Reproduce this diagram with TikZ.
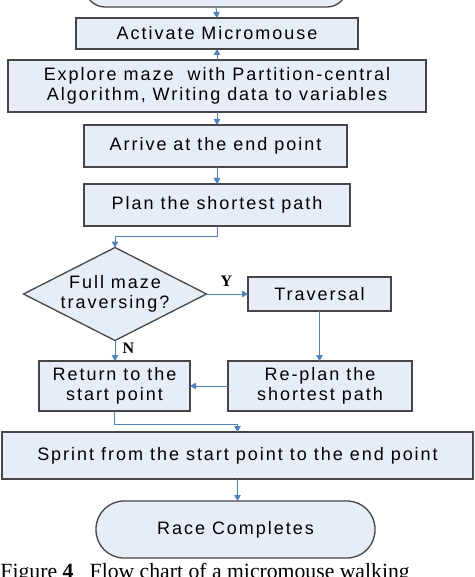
\documentclass[tikz,border=0pt]{standalone}
\usepackage{fontspec}
\usetikzlibrary{arrows.meta,shapes.geometric}
\newfontfamily\boxfont{Liberation Sans}[LetterSpace=11]
\newfontfamily\capfont{Liberation Serif}
\definecolor{boxfill}{RGB}{230,237,248}
\definecolor{boxline}{RGB}{70,70,70}
\definecolor{conn}{RGB}{79,129,189}
\begin{document}
\begin{tikzpicture}[x=1pt,y=-1pt,
  every node/.style={inner sep=0pt,outer sep=0pt},
  box/.style={draw=boxline,line width=1.3pt,fill=boxfill,rectangle,
    font=\boxfont\fontsize{18}{20}\selectfont,align=center},
  term/.style={box,rounded corners=28pt},
  dec/.style={draw=boxline,line width=1.3pt,fill=boxfill,diamond,
    minimum width=183pt,minimum height=93pt},
  lbl/.style={font=\boxfont\fontsize{18}{20}\selectfont,align=center},
  yn/.style={font=\capfont\bfseries\fontsize{16}{18}\selectfont},
  arr/.style={draw=conn,line width=1pt,-{Triangle[width=6.5pt,length=6pt]}}]
\useasboundingbox (0,0) rectangle (474,577);
\fill[white] (0,0) rectangle (474,577);
% nodes
\node[box,rounded corners=20pt,minimum width=262pt,minimum height=50pt] (start) at (216,-18) {};
\node[box,minimum width=282pt,minimum height=31pt] (activate) at (217,33.5) {Activate Micromouse};
\node[box,minimum width=418pt,minimum height=52pt] (explore) at (217,86) {Explore maze\ \ with Partition-central\\Algorithm, Writing data to variables};
\node[box,minimum width=263pt,minimum height=42pt] (arrive) at (215.5,146) {Arrive at the end point};
\node[box,minimum width=266pt,minimum height=42pt] (plan) at (217,205) {Plan the shortest path};
\node[dec] (decision) at (115,294) {};
\node[lbl] (dectext) at (115,294) {Full maze\\traversing?};
\node[box,minimum width=143pt,minimum height=34pt] (traversal) at (319.5,294) {Traversal};
\node[box,minimum width=184pt,minimum height=50pt] (replan) at (320,386) {Re-plan the\\shortest path};
\node[box,minimum width=151pt,minimum height=50pt] (return) at (114.5,386) {Return to the\\start point};
\node[box,minimum width=471pt,minimum height=47pt] (sprint) at (237.5,455.5) {Sprint from the start point to the end point};
\node[term,minimum width=279pt,minimum height=57pt] (race) at (235.5,529.5) {Race Completes};
\node[yn] (ylab) at (226.5,281.5) {Y};
\node[yn] (nlab) at (128.5,348) {N};
\node[anchor=base west,font=\capfont\fontsize{21.7}{24}\selectfont] (caption) at (0.5,578.5) {Figure \textbf{4}\ \ \ Flow chart of a micromouse walking};
% connectors
\draw[arr] (start.south) -- (activate.north);
\draw[arr] (explore.north) -- (activate.south);
\draw[arr] (explore.south) -- (explore.south |- arrive.north);
\draw[arr] (arrive.south -| plan.north) -- (plan.north);
\draw[arr] (plan.south) -- ++(0,10) -| (decision.north);
\draw[arr] (decision.east) -- (traversal.west);
\draw[arr] (traversal.south) -- (traversal.south |- replan.north);
\draw[arr] (replan.west) -- (return.east);
\draw[arr] (decision.south) -- (decision.south |- return.north);
\draw[arr] (return.south) -- ++(0,13) -| (sprint.north);
\draw[arr] (sprint.south) -- (sprint.south |- race.north);
\end{tikzpicture}
\end{document}
